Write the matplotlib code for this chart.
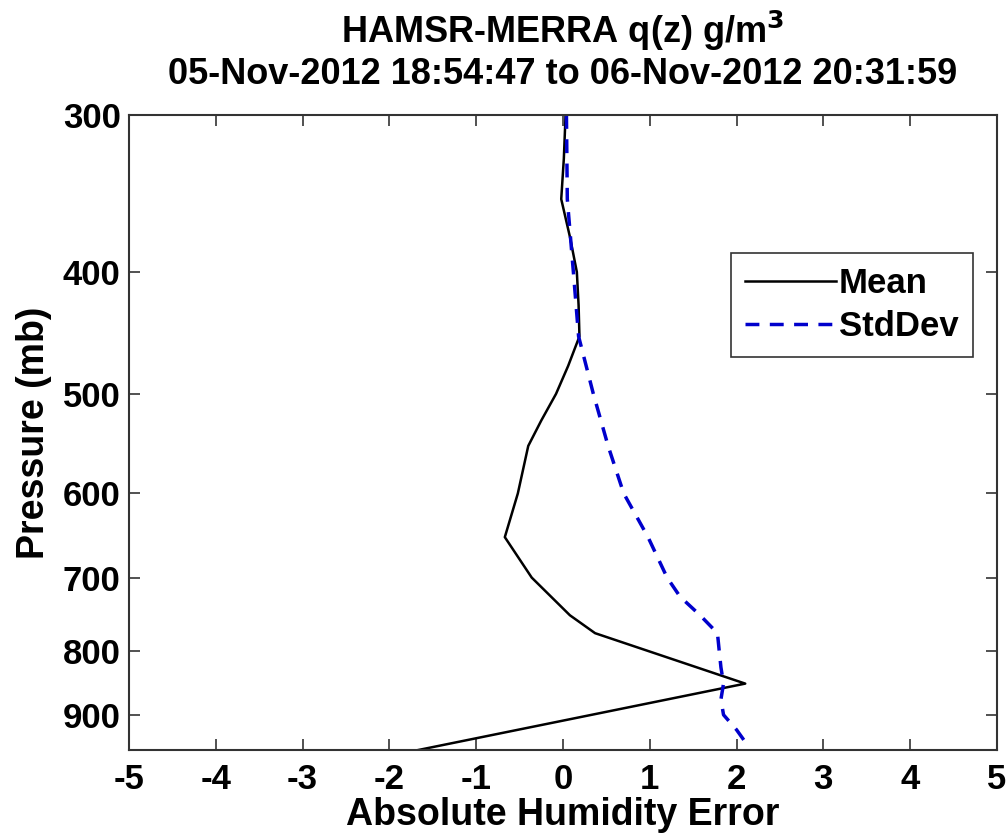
import numpy as np
import matplotlib
matplotlib.use("Agg")
import matplotlib.pyplot as plt

# pressure levels (mb) and profiles
mean_p = [300, 325, 350, 375, 400, 425, 450, 475, 500, 525, 550, 600, 650, 700, 750, 775, 850, 960]
mean_err = [0.03, 0.01, -0.02, 0.08, 0.16, 0.18, 0.19, 0.06, -0.08, -0.25, -0.40, -0.52, -0.67, -0.36, 0.08, 0.37, 2.10, -1.67]

std_p = [300, 350, 400, 450, 500, 550, 600, 650, 700, 725, 750, 775, 800, 825, 850, 875, 900, 925, 950]
std_err = [0.04, 0.05, 0.12, 0.18, 0.35, 0.52, 0.70, 0.98, 1.20, 1.35, 1.58, 1.78, 1.80, 1.82, 1.85, 1.82, 1.85, 2.00, 2.12]

xticks = [-5, -4, -3, -2, -1, 0, 1, 2, 3, 4, 5]
yticks = [300, 400, 500, 600, 700, 800, 900]

plt.rcParams['font.family'] = ['Liberation Sans', 'DejaVu Sans']
plt.rcParams['font.weight'] = 'bold'
plt.rcParams['axes.unicode_minus'] = False

fig = plt.figure(figsize=(10.08, 8.39), dpi=100)
ax = fig.add_axes([0.128, 0.106, 0.861, 0.757])

ax.plot(mean_err, mean_p, color='black', lw=1.8, label='Mean')
ax.plot(std_err, std_p, color='#0000cc', lw=2.5, ls=(0, (4, 3)), label='StdDev')

ax.set_yscale('log')
ax.set_ylim(960, 300)
ax.set_xlim(-5, 5)
ax.set_yticks(yticks)
ax.set_yticklabels([str(t) for t in yticks])
ax.minorticks_off()
ax.set_xticks(xticks)

ax.tick_params(direction='in', length=8, width=1.2, top=True, right=True,
               labelsize=25, colors='#333333', labelcolor='black', pad=6)
ax.tick_params(axis='x', pad=9)
for s in ax.spines.values():
    s.set_color('#333333')
    s.set_linewidth(1.5)

ax.set_xlabel('Absolute Humidity Error', fontsize=27, fontweight='bold', labelpad=1)
ax.set_ylabel('Pressure (mb)', fontsize=27, fontweight='bold', labelpad=8)
ax.set_title('HAMSR-MERRA q(z) g/m$^\\mathbf{3}$\n05-Nov-2012 18:54:47 to 06-Nov-2012 20:31:59',
             fontsize=26, fontweight='bold', pad=22, linespacing=1.15)

leg = ax.legend(loc='upper right', bbox_to_anchor=(0.972, 0.783), fontsize=25,
                handlelength=2.6, handletextpad=0.1, borderpad=0.4, borderaxespad=0,
                fancybox=False, framealpha=1, edgecolor='#333333', labelspacing=0.3)
leg.get_frame().set_linewidth(1.2)

fig.savefig('out.png', dpi=100)
